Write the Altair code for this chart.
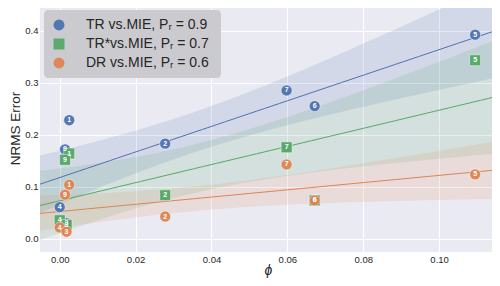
import numpy as np
import pandas as pd
import altair as alt

# ---- data ----
labels = ["1", "9", "2", "4", "3", "7", "6", "5"]
phi = [0.0025, 0.0014, 0.0278, 0.0, 0.0018, 0.0598, 0.0672, 0.1095]
tr_err = [0.228, 0.172, 0.183, 0.061, 0.030, 0.285, 0.255, 0.392]
trs_err = [0.164, 0.152, 0.084, 0.036, 0.027, 0.176, 0.074, 0.343]
dr_err = [0.104, 0.085, 0.043, 0.022, 0.014, 0.143, 0.074, 0.124]

series_names = ["TR vs.MIE, P\u1d63 =  0.9", "TR*vs.MIE, P\u1d63 =  0.7", "DR vs.MIE, P\u1d63 =  0.6"]
series_vals = [tr_err, trs_err, dr_err]
colors = ["#4C72B0", "#55A868", "#DD8452"]
shapes = ["circle", "square", "circle"]

x_dom = [-0.0052, 0.115]
y_dom = [-0.025, 0.451]

# points table
rows = []
for name, vals in zip(series_names, series_vals):
    for lab, x, y in zip(labels, phi, vals):
        rows.append({"series": name, "phi": x, "err": y, "label": lab})
pts = pd.DataFrame(rows)

# regression line + confidence band computed from the points (OLS),
# with a bootstrap-like width factor
ci_mult = 1.65
grid = np.linspace(x_dom[0], x_dom[1], 60)
band_rows = []
for name, vals in zip(series_names, series_vals):
    x = np.array(phi)
    y = np.array(vals)
    n = len(x)
    b1, b0 = np.polyfit(x, y, 1)
    resid = y - (b0 + b1 * x)
    s = np.sqrt(np.sum(resid ** 2) / (n - 2))
    sxx = np.sum((x - x.mean()) ** 2)
    for g in grid:
        yh = b0 + b1 * g
        se = s * np.sqrt(1.0 / n + (g - x.mean()) ** 2 / sxx)
        band_rows.append({"series": name, "phi": g, "fit": yh,
                          "lo": yh - ci_mult * se, "hi": yh + ci_mult * se})
band = pd.DataFrame(band_rows)

font = "Liberation Sans"
xs = alt.Scale(domain=x_dom, nice=False, zero=False)
ys = alt.Scale(domain=y_dom, nice=False, zero=False)
cscale = alt.Scale(domain=series_names, range=colors)

x_enc = alt.X("phi:Q", scale=xs, title="ϕ",
              axis=alt.Axis(values=[0.0, 0.02, 0.04, 0.06, 0.08, 0.10], format=".2f"))
y_enc = alt.Y("err:Q", scale=ys, title="NRMS Error",
              axis=alt.Axis(values=[0.0, 0.1, 0.2, 0.3, 0.4], format=".1f"))

areas = alt.Chart(band).mark_area(opacity=0.15, clip=True).encode(
    x=alt.X("phi:Q", scale=xs),
    y=alt.Y("lo:Q", scale=ys),
    y2="hi:Q",
    color=alt.Color("series:N", scale=cscale, legend=None),
)

lines = alt.Chart(band).mark_line(strokeWidth=1, clip=True).encode(
    x=alt.X("phi:Q", scale=xs),
    y=alt.Y("fit:Q", scale=ys),
    color=alt.Color("series:N", scale=cscale, legend=None),
)

leg = alt.Legend(orient="none", legendX=4, legendY=6,
                 fillColor="#cbcbcf", cornerRadius=4,
                 padding=8, labelFontSize=14, labelFont=font,
                 labelColor="#262626", symbolSize=120,
                 symbolStrokeWidth=0, symbolOpacity=0.95,
                 labelOffset=20, rowPadding=5, symbolOffset=0)

points = alt.Chart(pts).mark_point(filled=True, size=120, opacity=0.95,
                                   stroke="white", strokeWidth=0.5).encode(
    x=x_enc,
    y=y_enc,
    color=alt.Color("series:N", scale=cscale, sort=series_names, title=None, legend=leg),
    shape=alt.Shape("series:N", scale=alt.Scale(domain=series_names, range=shapes),
                    sort=series_names, title=None, legend=leg),
)

texts = alt.Chart(pts).mark_text(color="white", fontSize=7, font=font,
                                 fontWeight="bold", baseline="middle",
                                 align="center").encode(
    x=alt.X("phi:Q", scale=xs),
    y=alt.Y("err:Q", scale=ys),
    text="label:N",
)

chart = alt.layer(areas, lines, points, texts).resolve_legend(
    color="independent", shape="independent"
).properties(
    width=484, height=270,
    autosize=alt.AutoSizeParams(type="fit", contains="padding"),
    padding={"left": 0, "top": -4, "right": -4, "bottom": 0},
).configure_view(
    fill="#EAEAF2", stroke=None
).configure_axis(
    grid=True, gridColor="white", gridWidth=1, domain=False, ticks=False,
    labelFont=font, labelFontSize=9.5, labelColor="#262626", labelPadding=2,
    titleFont=font, titleColor="#262626", titleFontWeight="normal",
).configure_axisY(
    titleFontSize=13.5, titlePadding=2
).configure_axisX(
    titleFontSize=14, titleFontStyle="italic", titlePadding=0
)

chart.save("out.html", embed_options={"renderer": "svg", "actions": False})
